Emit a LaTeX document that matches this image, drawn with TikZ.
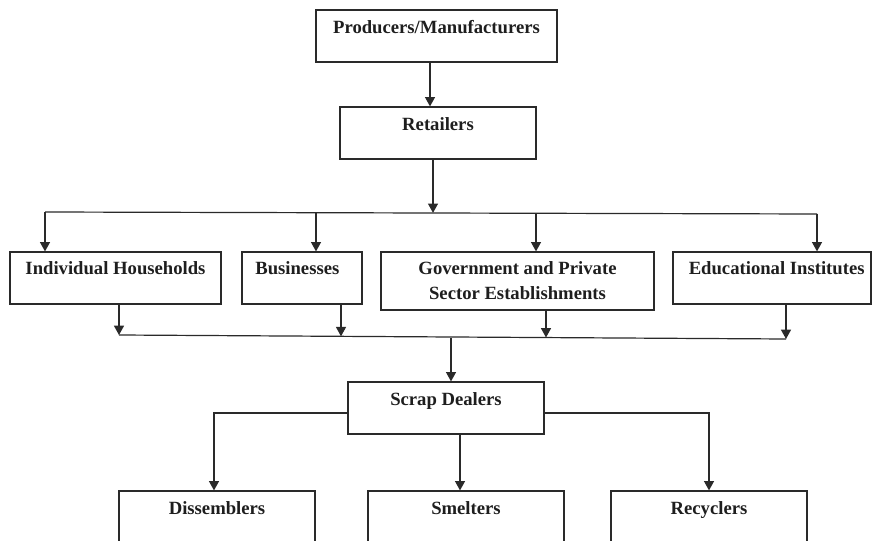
\documentclass[tikz,border=0pt]{standalone}
\usepackage{fontspec}
\setmainfont{Liberation Serif}
\usetikzlibrary{arrows.meta,calc}
\definecolor{boxline}{HTML}{2A2A2A}
\definecolor{txt}{HTML}{1E1E1E}
\begin{document}
\begin{tikzpicture}[x=0.75pt,y=-0.75pt,
  flowbox/.style 2 args={draw=boxline, line width=0.9pt,
    minimum width=#1*0.75pt, minimum height=#2*0.75pt, inner sep=0pt},
  lbl/.style={anchor=base, inner sep=0pt, text=txt, align=center,
    font=\fontsize{14}{18.75}\selectfont\bfseries},
  link/.style={draw=boxline, line width=0.9pt},
  arr/.style={link, -{Triangle[length=7pt,width=7.5pt]}}]
\useasboundingbox (0,0) rectangle (873,541);
\clip (0,0) rectangle (873,541);

% boxes
\node[flowbox={241}{52}] (prod) at (436.5,36) {};
\node[flowbox={196}{52}] (ret) at (438,133) {};
\node[flowbox={211}{52}] (ih) at (115.5,278) {};
\node[flowbox={120}{52}] (bus) at (302,278) {};
\node[flowbox={273}{58}] (gov) at (517.5,281) {};
\node[flowbox={198}{52}] (edu) at (772,278) {};
\node[flowbox={196}{52}] (scrap) at (446,408) {};
\node[flowbox={196}{70}] (dis) at (217,526) {};
\node[flowbox={196}{70}] (sme) at (466,526) {};
\node[flowbox={196}{70}] (rec) at (709,526) {};

% labels (the base anchor of a two-line label sits on its last line)
\node[lbl] (prodT) at ([yshift=-18pt]prod.north) {Producers/Manufacturers};
\node[lbl] (retT) at ([yshift=-18pt]ret.north) {Retailers};
\node[lbl] (ihT) at ([yshift=-17.5pt]ih.north) {Individual Households};
\node[lbl] (busT) at ([xshift=-3.5pt,yshift=-17.5pt]bus.north) {Businesses};
\node[lbl] (govT) at ([yshift=-36.25pt]gov.north) {Government and Private\\Sector Establishments};
\node[lbl] (eduT) at ([xshift=3.5pt,yshift=-17.5pt]edu.north) {Educational Institutes};
\node[lbl] (scrapT) at ([yshift=-18pt]scrap.north) {Scrap Dealers};
\node[lbl] (disT) at ([yshift=-18pt]dis.north) {Dissemblers};
\node[lbl] (smeT) at ([yshift=-18pt]sme.north) {Smelters};
\node[lbl] (recT) at ([yshift=-18pt]rec.north) {Recyclers};

% producers to retailers
\coordinate (pr) at (430,0);
\draw[arr] (prod.south -| pr) -- (ret.north -| pr);

% retailers to the four kinds of consumers
\coordinate (t0) at (433,212.9);
\coordinate (t1) at (45,212);
\coordinate (t2) at (316,212.7);
\coordinate (t3) at (536,213.3);
\coordinate (t4) at (817,214);
\draw[link] (t1) -- (t4);
\draw[arr] (ret.south -| t0) -- (t0);
\draw[arr] (t1) -- (t1 |- ih.north);
\draw[arr] (t2) -- (t2 |- bus.north);
\draw[arr] (t3) -- (t3 |- gov.north);
\draw[arr] (t4) -- (t4 |- edu.north);

% consumers to scrap dealers
\coordinate (m0) at (451,337.9);
\coordinate (m1) at (119,335);
\coordinate (m2) at (341,336.3);
\coordinate (m3) at (546,337.5);
\coordinate (m4) at (786,339);
\draw[link] (m1) -- (m4);
\draw[arr] (ih.south -| m1) -- (m1);
\draw[arr] (bus.south -| m2) -- (m2);
\draw[arr] (gov.south -| m3) -- (m3);
\draw[arr] (edu.south -| m4) -- (m4);
\draw[arr] (m0) -- (m0 |- scrap.north);

% scrap dealers to processors
\coordinate (sy) at (0,413);
\coordinate (dx) at (214,0);
\coordinate (mx) at (460,0);
\draw[arr] (scrap.west |- sy) -| (dis.north -| dx);
\draw[arr] (scrap.south -| mx) -- (sme.north -| mx);
\draw[arr] (scrap.east |- sy) -| (rec.north);
\end{tikzpicture}
\end{document}
